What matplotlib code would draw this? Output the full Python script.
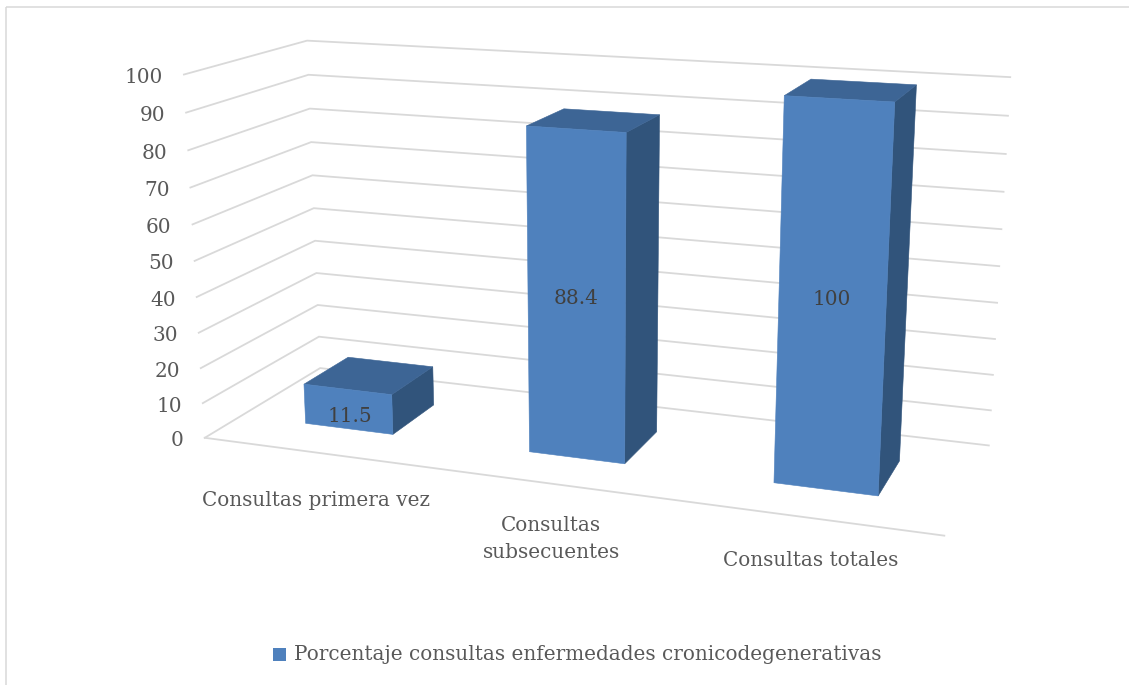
import numpy as np
import matplotlib
matplotlib.use("Agg")
import matplotlib.pyplot as plt
from matplotlib.patches import Polygon, Rectangle

categories = ["Consultas primera vez", "Consultas\nsubsecuentes", "Consultas totales"]
values = [11.5, 88.4, 100]
value_labels = ["11.5", "88.4", "100"]
ticks = [0, 10, 20, 30, 40, 50, 60, 70, 80, 90, 100]
legend_label = "Porcentaje consultas enfermedades cronicodegenerativas"

GRID = "#D9D9D9"; TXT = "#595959"
FRONT = "#4F81BD"; TOP = "#3D6595"; SIDE = "#31547B"
FONT = "DejaVu Serif"
FS = 14.4

# camera calibration: box corners (category, value, depth) -> pixel
world = np.array([(0,0,0),(3,0,0),(0,100,0),(0,0,1),(3,0,1),(0,100,1),(3,100,1),(3,90,1),(3,80,1)], float)
pix = np.array([(205,438),(944,536),(184,74),(320,368),(989,445),(307,41),(1010,77),(1008,116),(1006,154)], float)
A = []
for (x,y,z),(u,v) in zip(world,pix):
    A.append([x,y,z,1,0,0,0,0,-u*x,-u*y,-u*z,-u])
    A.append([0,0,0,0,x,y,z,1,-v*x,-v*y,-v*z,-v])
P = np.linalg.svd(np.array(A))[2][-1].reshape(3,4)

def proj(x,y,z):
    h = P @ np.array([x,y,z,1.0])
    return h[0]/h[2], h[1]/h[2]

fig = plt.figure(figsize=(11.29,6.85), dpi=100)
ax = fig.add_axes([0,0,1,1])
ax.set_xlim(0,1129); ax.set_ylim(685,0); ax.axis("off")

ax.add_patch(Rectangle((5.5,7),1200,800,fill=False,ec=GRID,lw=1.1))

for t in ticks:
    pts = [proj(0,t,0),proj(0,t,1),proj(3,t,1)]
    ax.plot(*zip(*pts),color=GRID,lw=1.3,solid_joinstyle="miter",zorder=1)
    px,py = pts[0]
    ax.text(px-21,py+3,str(t),ha="right",va="center",color=TXT,family=FONT,fontsize=FS)
ax.plot(*zip(proj(0,0,0),proj(3,0,0)),color=GRID,lw=1.3,zorder=1)

W = 0.40; Z0 = 0.30; Z1 = 0.70
label_shift = [(2,7),(0,1),(0,0)]
for i,(v,lab) in enumerate(zip(values,value_labels)):
    x0,x1 = i+0.5-W/2, i+0.5+W/2
    ax.add_patch(Polygon([proj(x1,0,Z0),proj(x1,0,Z1),proj(x1,v,Z1),proj(x1,v,Z0)],fc=SIDE,ec=SIDE,lw=0.4,zorder=2))
    ax.add_patch(Polygon([proj(x0,v,Z0),proj(x1,v,Z0),proj(x1,v,Z1),proj(x0,v,Z1)],fc=TOP,ec=TOP,lw=0.4,zorder=2))
    ax.add_patch(Polygon([proj(x0,0,Z0),proj(x1,0,Z0),proj(x1,v,Z0),proj(x0,v,Z0)],fc=FRONT,ec=FRONT,lw=0.4,zorder=3))
    cx,cy = proj(i+0.5,v/2,Z0)
    ax.text(cx+label_shift[i][0],cy+label_shift[i][1],lab,ha="center",va="center",color="#404040",family=FONT,fontsize=FS,zorder=4)

label_pos = [(316,500),(551,539),(811,560)]
for c,(lx,ly) in zip(categories,label_pos):
    ax.text(lx,ly,c,ha="center",va="center",color=TXT,family=FONT,fontsize=FS,linespacing=1.55)

ax.add_patch(Rectangle((273,648),13,13,fc=FRONT,ec="none"))
ax.text(294,655,legend_label,ha="left",va="center",color=TXT,family=FONT,fontsize=FS)

fig.savefig("out.png",dpi=100)
